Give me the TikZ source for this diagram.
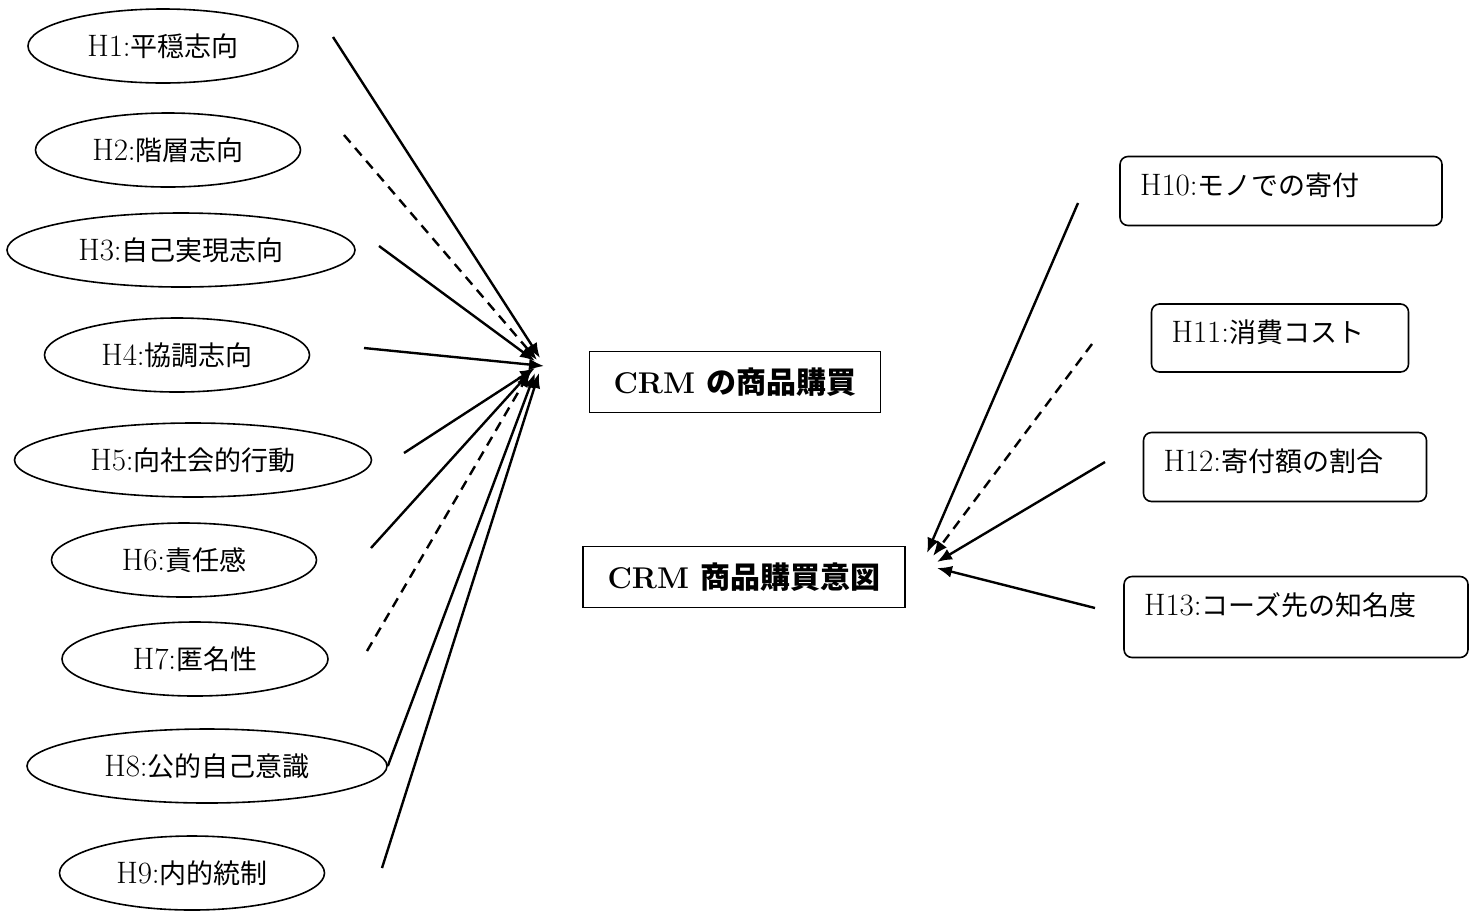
\documentclass[tikz,border=0pt]{standalone}
\usepackage{fontspec}
\newfontfamily\jp{Noto Sans CJK JP}
\usetikzlibrary{shapes.geometric,arrows.meta}
\newcommand\hlab[2]{{\fontsize{15.5}{16}\selectfont #1}{\jp #2}}

\begin{document}
\begin{tikzpicture}[x=0.5pt,y=0.5pt,yscale=-1,
  ell/.style={draw,ellipse,line width=0.8pt,inner sep=0pt,minimum height=37pt,font=\fontsize{13.5}{16}\selectfont},
  mainbox/.style={draw,line width=0.8pt,minimum height=30.5pt,inner sep=0pt,font=\fontsize{15}{18}\selectfont\bfseries},
  hbox/.style={draw,rounded corners=4pt,line width=0.8pt,align=left,inner xsep=10pt,inner ysep=0pt,text height=12pt,text depth=8pt,font=\fontsize{13.5}{16}\selectfont},
  arr/.style={line width=1.2pt,-{Latex[length=7.5pt,width=6pt]}},
  darr/.style={arr,dash pattern=on 5pt off 3.5pt}]
\useasboundingbox (0,0) rectangle (1470,911);

%Ellipses on the left
\node[ell,minimum width=135pt] (h1) at (163,46) {\hlab{H1:}{平穏志向}};
\node[ell,minimum width=132.5pt] (h2) at (168,150) {\hlab{H2:}{階層志向}};
\node[ell,minimum width=174pt] (h3) at (181,250) {\hlab{H3:}{自己実現志向}};
\node[ell,minimum width=132.5pt] (h4) at (177,355) {\hlab{H4:}{協調志向}};
\node[ell,minimum width=178.5pt] (h5) at (193,460) {\hlab{H5:}{向社会的行動}};
\node[ell,minimum width=132.5pt] (h6) at (184,560) {\hlab{H6:}{責任感}};
\node[ell,minimum width=133pt] (h7) at (195,659) {\hlab{H7:}{匿名性}};
\node[ell,minimum width=180pt] (h8) at (207,766) {\hlab{H8:}{公的自己意識}};
\node[ell,minimum width=132.5pt] (h9) at (192,873) {\hlab{H9:}{内的統制}};

%Centre boxes
\node[mainbox,minimum width=145.5pt] (buy) at (735,382) {CRM {\jp の商品購買}};
\node[mainbox,minimum width=161pt] (intent) at (744,577) {CRM {\jp 商品購買意図}};

%Rounded boxes on the right
\node[hbox,text width=141pt,minimum height=34.5pt] (h10) at (1281,191) {\hlab{H10:}{モノでの寄付}};
\node[hbox,text width=108.5pt,minimum height=34pt] (h11) at (1280,338) {\hlab{H11:}{消費コスト}};
\node[hbox,text width=121.5pt,minimum height=34.5pt] (h12) at (1285,467) {\hlab{H12:}{寄付額の割合}};
\node[hbox,text width=152pt,minimum height=40.5pt,text depth=14pt] (h13) at (1296,617) {\hlab{H13:}{コーズ先の知名度}};

%Line ends
\coordinate (s1) at (333,37);  \coordinate (t1) at (540,358);
\coordinate (s2) at (344,135); \coordinate (t2) at (537,360);
\coordinate (s3) at (379,246); \coordinate (t3) at (535,361);
\coordinate (s4) at (364,348); \coordinate (t4) at (544,366);
\coordinate (s5) at (404,453); \coordinate (t5) at (535,368);
\coordinate (s6) at (371,548); \coordinate (t6) at (532,370);
\coordinate (s7) at (367,651); \coordinate (t7) at (530,372);
\coordinate (t8) at (535,373);
\coordinate (s9) at (382,868); \coordinate (t9) at (539,373);
\coordinate (s10) at (1078,203); \coordinate (t10) at (927,553);
\coordinate (s11) at (1092,344); \coordinate (t11) at (933,556);
\coordinate (s12) at (1105,462); \coordinate (t12) at (937,562);
\coordinate (s13) at (1095,608); \coordinate (t13) at (937,568);

%Arrows into the first box
\draw[arr] (s1) -- (t1);
\draw[darr] (s2) -- (t2);
\draw[arr] (s3) -- (t3);
\draw[arr] (s4) -- (t4);
\draw[arr] (s5) -- (t5);
\draw[arr] (s6) -- (t6);
\draw[darr] (s7) -- (t7);
\draw[arr] (h8.east) -- (t8);
\draw[arr] (s9) -- (t9);

%Arrows into the second box
\draw[arr] (s10) -- (t10);
\draw[darr] (s11) -- (t11);
\draw[arr] (s12) -- (t12);
\draw[arr] (s13) -- (t13);

\end{tikzpicture}
\end{document}
